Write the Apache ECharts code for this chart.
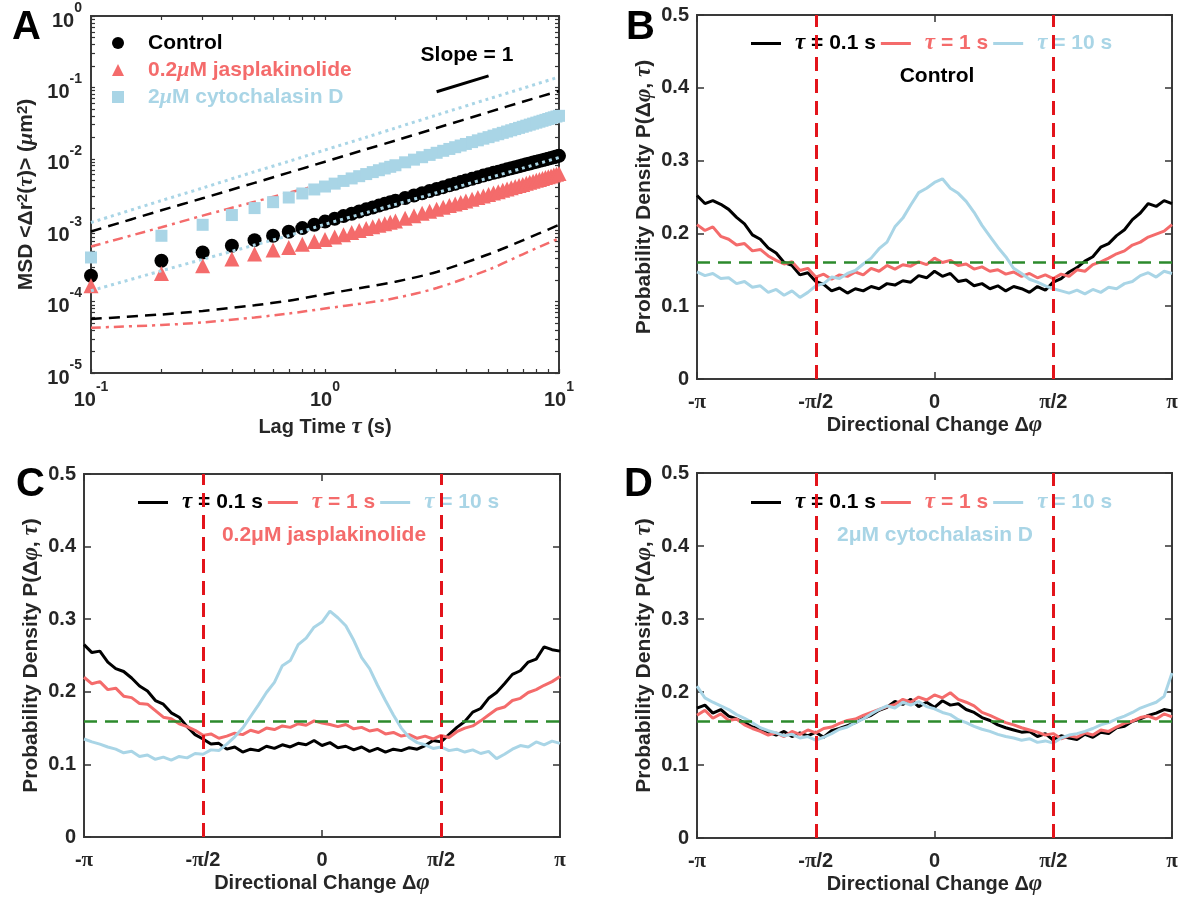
<!DOCTYPE html>
<html>
<head>
<meta charset="utf-8">
<script src="https://cdn.jsdelivr.net/npm/echarts@6/dist/echarts.min.js"></script>
<style>
  html, body { margin: 0; padding: 0; background: #fff; }
  #main { width: 1182px; height: 900px; }
</style>
</head>
<body>
<div id="main"></div>
<script>
// ---- panel A: MSD vs lag time ----
const lagTimes = [0.1, 0.2, 0.3, 0.4, 0.5, 0.6, 0.7, 0.8, 0.9, 1.0,
  1.1, 1.2, 1.3, 1.4, 1.5, 1.6, 1.7, 1.8, 1.9, 2.0,
  2.2, 2.4, 2.6, 2.8, 3.0, 3.2, 3.4, 3.6, 3.8, 4.0,
  4.25, 4.5, 4.75, 5.0, 5.25, 5.5, 5.75, 6.0, 6.25, 6.5, 6.75, 7.0,
  7.25, 7.5, 7.75, 8.0, 8.25, 8.5, 8.75, 9.0, 9.25, 9.5, 9.75, 10.0]
const msdControl = [2.3e-4, 3.73e-4, 4.88e-4, 6.05e-4, 7.26e-4, 8.35e-4, 9.5e-4, 1.07e-3, 1.19e-3, 1.32e-3,
  1.45e-3, 1.575e-3, 1.70e-3, 1.83e-3, 1.96e-3, 2.08e-3, 2.21e-3, 2.34e-3, 2.46e-3, 2.58e-3,
  2.82e-3, 3.06e-3, 3.30e-3, 3.54e-3, 3.78e-3, 4.01e-3, 4.25e-3, 4.48e-3, 4.72e-3, 4.95e-3,
  5.24e-3, 5.53e-3, 5.82e-3, 6.10e-3, 6.36e-3, 6.61e-3, 6.87e-3, 7.12e-3, 7.38e-3, 7.63e-3, 7.87e-3, 8.12e-3,
  8.36e-3, 8.61e-3, 8.85e-3, 9.09e-3, 9.34e-3, 9.58e-3, 9.81e-3, 1.005e-2, 1.029e-2, 1.053e-2, 1.076e-2, 1.10e-2]
const msdJasp = [1.67e-4, 2.48e-4, 3.18e-4, 3.94e-4, 4.63e-4, 5.26e-4, 5.73e-4, 6.38e-4, 6.95e-4, 7.4e-4,
  8.04e-4, 8.67e-4, 9.30e-4, 9.92e-4, 1.053e-3, 1.114e-3, 1.174e-3, 1.234e-3, 1.293e-3, 1.35e-3,
  1.476e-3, 1.60e-3, 1.723e-3, 1.845e-3, 1.968e-3, 2.09e-3, 2.21e-3, 2.33e-3, 2.45e-3, 2.57e-3,
  2.72e-3, 2.87e-3, 3.02e-3, 3.16e-3, 3.31e-3, 3.46e-3, 3.62e-3, 3.77e-3, 3.92e-3, 4.08e-3, 4.23e-3, 4.38e-3,
  4.53e-3, 4.69e-3, 4.84e-3, 4.99e-3, 5.15e-3, 5.30e-3, 5.45e-3, 5.60e-3, 5.76e-3, 5.91e-3, 6.06e-3, 6.20e-3]
const msdCyto = [4.15e-4, 8.35e-4, 1.19e-3, 1.63e-3, 2.04e-3, 2.47e-3, 2.87e-3, 3.27e-3, 3.72e-3, 4.09e-3,
  4.49e-3, 4.90e-3, 5.31e-3, 5.71e-3, 6.11e-3, 6.51e-3, 6.92e-3, 7.32e-3, 7.72e-3, 8.12e-3,
  8.93e-3, 9.73e-3, 1.053e-2, 1.134e-2, 1.214e-2, 1.294e-2, 1.374e-2, 1.454e-2, 1.534e-2, 1.614e-2,
  1.714e-2, 1.814e-2, 1.914e-2, 2.01e-2, 2.11e-2, 2.21e-2, 2.31e-2, 2.41e-2, 2.51e-2, 2.61e-2, 2.71e-2, 2.81e-2,
  2.91e-2, 3.01e-2, 3.11e-2, 3.21e-2, 3.31e-2, 3.41e-2, 3.51e-2, 3.61e-2, 3.71e-2, 3.81e-2, 3.91e-2, 4.00e-2]

// bound curves
const boundTimes = [0.1, 0.2, 0.3, 0.5, 0.7, 1, 1.5, 2, 3, 5, 7, 10]
const controlUpper = [9.6e-4, 1.9e-3, 2.8e-3, 4.6e-3, 6.4e-3, 9.1e-3, 1.36e-2, 1.8e-2, 2.7e-2, 4.5e-2, 6.3e-2, 8.9e-2]
const controlLower = [5.7e-5, 6.6e-5, 7.4e-5, 8.9e-5, 1.03e-4, 1.27e-4, 1.6e-4, 1.9e-4, 2.6e-4, 4.6e-4, 7.2e-4, 1.19e-3]
const jaspUpper = [5.9e-4, 1.1e-3, 1.6e-3, 2.5e-3, 3.35e-3, 4.5e-3, 6.4e-3, 8.3e-3, 1.2e-2, 1.9e-2, 2.6e-2, 3.6e-2]
const jaspLower = [4.3e-5, 4.7e-5, 5.1e-5, 6.0e-5, 6.8e-5, 8.0e-5, 9.6e-5, 1.12e-4, 1.55e-4, 2.8e-4, 4.6e-4, 7.7e-4]
const cytoUpper = [1.28e-3, 2.6e-3, 3.9e-3, 6.6e-3, 9.2e-3, 1.33e-2, 2.0e-2, 2.7e-2, 4.1e-2, 6.9e-2, 9.7e-2, 0.14]
const cytoLower = [1.42e-4, 2.7e-4, 3.9e-4, 6.2e-4, 8.4e-4, 1.21e-3, 1.76e-3, 2.3e-3, 3.35e-3, 5.4e-3, 7.4e-3, 1.04e-2]
const slopeTimes = [3, 5]
const slopeValues = [0.087, 0.145]

// ---- panels B-D: directional change distributions (61 samples, -pi..pi) ----
const phiLabels = ['-{g|π}', '-{g|π}/2', '0', '{g|π}/2', '{g|π}']
const uniformLevel = 0.159

const bTau01 = [0.252, 0.241, 0.245, 0.240, 0.233, 0.222, 0.213, 0.198, 0.192, 0.180,
  0.173, 0.160, 0.156, 0.143, 0.146, 0.134, 0.130, 0.121, 0.125, 0.118,
  0.124, 0.121, 0.127, 0.124, 0.131, 0.129, 0.135, 0.133, 0.142, 0.139,
  0.148, 0.141, 0.145, 0.134, 0.136, 0.128, 0.131, 0.124, 0.128, 0.121,
  0.127, 0.124, 0.119, 0.127, 0.122, 0.133, 0.138, 0.147, 0.153, 0.162,
  0.168, 0.181, 0.186, 0.197, 0.205, 0.219, 0.228, 0.241, 0.237, 0.245, 0.241]
const bTau1 = [0.212, 0.204, 0.209, 0.196, 0.192, 0.184, 0.186, 0.176, 0.178, 0.169,
  0.163, 0.158, 0.161, 0.149, 0.152, 0.140, 0.144, 0.137, 0.143, 0.141,
  0.147, 0.143, 0.152, 0.148, 0.156, 0.151, 0.157, 0.155, 0.161, 0.157,
  0.166, 0.160, 0.163, 0.156, 0.158, 0.151, 0.154, 0.148, 0.150, 0.144,
  0.147, 0.141, 0.145, 0.139, 0.143, 0.138, 0.144, 0.141, 0.150, 0.148,
  0.157, 0.161, 0.166, 0.172, 0.176, 0.184, 0.188, 0.195, 0.199, 0.203, 0.212]
const bTau10 = [0.147, 0.142, 0.145, 0.138, 0.139, 0.131, 0.134, 0.126, 0.128, 0.119,
  0.123, 0.115, 0.121, 0.112, 0.119, 0.128, 0.131, 0.140, 0.138, 0.145,
  0.149, 0.158, 0.166, 0.179, 0.188, 0.209, 0.221, 0.239, 0.256, 0.262,
  0.270, 0.275, 0.262, 0.255, 0.244, 0.229, 0.211, 0.196, 0.181, 0.168,
  0.152, 0.145, 0.137, 0.133, 0.128, 0.124, 0.121, 0.118, 0.122, 0.117,
  0.123, 0.119, 0.126, 0.124, 0.131, 0.134, 0.142, 0.146, 0.140, 0.148, 0.145]

const cTau01 = [0.265, 0.254, 0.256, 0.241, 0.232, 0.228, 0.219, 0.208, 0.201, 0.188,
  0.183, 0.171, 0.165, 0.152, 0.141, 0.135, 0.128, 0.129, 0.121, 0.124,
  0.117, 0.121, 0.119, 0.125, 0.122, 0.127, 0.124, 0.129, 0.127, 0.133,
  0.126, 0.130, 0.123, 0.125, 0.120, 0.124, 0.118, 0.122, 0.117, 0.121,
  0.119, 0.123, 0.121, 0.126, 0.133, 0.131, 0.141, 0.151, 0.159, 0.172,
  0.177, 0.191, 0.199, 0.211, 0.224, 0.229, 0.241, 0.245, 0.262, 0.258, 0.256]
const cTau1 = [0.220, 0.211, 0.214, 0.203, 0.205, 0.194, 0.192, 0.184, 0.183, 0.174,
  0.165, 0.163, 0.156, 0.152, 0.147, 0.140, 0.142, 0.136, 0.139, 0.143,
  0.141, 0.147, 0.144, 0.150, 0.148, 0.153, 0.151, 0.156, 0.154, 0.160,
  0.157, 0.155, 0.152, 0.155, 0.149, 0.151, 0.146, 0.148, 0.142, 0.144,
  0.139, 0.141, 0.136, 0.139, 0.135, 0.140, 0.137, 0.145, 0.150, 0.153,
  0.160, 0.168, 0.176, 0.179, 0.188, 0.191, 0.199, 0.203, 0.209, 0.214, 0.221]
const cTau10 = [0.135, 0.131, 0.128, 0.124, 0.121, 0.116, 0.118, 0.111, 0.113, 0.107,
  0.110, 0.106, 0.111, 0.109, 0.115, 0.114, 0.120, 0.119, 0.128, 0.138,
  0.150, 0.166, 0.182, 0.199, 0.213, 0.236, 0.243, 0.265, 0.274, 0.289,
  0.296, 0.311, 0.302, 0.291, 0.271, 0.247, 0.232, 0.209, 0.188, 0.168,
  0.150, 0.137, 0.130, 0.127, 0.122, 0.124, 0.119, 0.121, 0.117, 0.120,
  0.115, 0.118, 0.108, 0.114, 0.121, 0.126, 0.124, 0.131, 0.127, 0.132, 0.129]

const dTau01 = [0.178, 0.182, 0.171, 0.176, 0.167, 0.163, 0.158, 0.152, 0.149, 0.145,
  0.141, 0.146, 0.139, 0.144, 0.140, 0.145, 0.138, 0.147, 0.150, 0.154,
  0.158, 0.164, 0.168, 0.175, 0.179, 0.187, 0.183, 0.190, 0.180, 0.186,
  0.179, 0.188, 0.182, 0.184, 0.176, 0.172, 0.165, 0.161, 0.155, 0.151,
  0.148, 0.145, 0.146, 0.139, 0.143, 0.134, 0.140, 0.137, 0.135, 0.142,
  0.138, 0.145, 0.143, 0.151, 0.153, 0.160, 0.163, 0.168, 0.171, 0.176, 0.174]
const dTau1 = [0.168, 0.175, 0.164, 0.170, 0.161, 0.163, 0.155, 0.150, 0.146, 0.141,
  0.144, 0.139, 0.146, 0.142, 0.148, 0.144, 0.150, 0.152, 0.157, 0.161,
  0.163, 0.168, 0.172, 0.176, 0.180, 0.183, 0.190, 0.186, 0.193, 0.189,
  0.196, 0.192, 0.199, 0.190, 0.186, 0.181, 0.172, 0.168, 0.163, 0.158,
  0.155, 0.151, 0.148, 0.145, 0.141, 0.143, 0.136, 0.140, 0.138, 0.144,
  0.141, 0.148, 0.146, 0.152, 0.157, 0.160, 0.165, 0.167, 0.163, 0.170, 0.166]
const dTau10 = [0.208, 0.192, 0.186, 0.181, 0.176, 0.169, 0.164, 0.158, 0.151, 0.147,
  0.144, 0.140, 0.142, 0.137, 0.139, 0.134, 0.138, 0.143, 0.149, 0.152,
  0.158, 0.163, 0.170, 0.176, 0.181, 0.178, 0.186, 0.182, 0.187, 0.180,
  0.177, 0.172, 0.169, 0.162, 0.158, 0.153, 0.149, 0.146, 0.142, 0.139,
  0.137, 0.134, 0.136, 0.131, 0.133, 0.130, 0.137, 0.141, 0.143, 0.146,
  0.150, 0.155, 0.158, 0.163, 0.167, 0.172, 0.178, 0.182, 0.186, 0.194, 0.226]

const BLACK = '#000000'
const RED = '#f46b6b'
const BLUE = '#a9d5e6'
const TXT = '#262626'
const FONT = 'Liberation Sans'

const tau = ['τ = 0.1 s', 'τ = 1 s', 'τ = 10 s']
const halfPi = Math.PI / 2

let myChart = echarts.init(document.getElementById('main'))

const greek = { fontFamily: 'Liberation Serif', fontStyle: 'italic', fontWeight: 'bold', fontSize: 23 }
const supRich = {
  b: { fontFamily: FONT, fontWeight: 'bold', fontSize: 20, color: TXT, lineHeight: 30, verticalAlign: 'bottom' },
  s: { fontFamily: FONT, fontWeight: 'bold', fontSize: 14, color: TXT, lineHeight: 16, verticalAlign: 'top' }
}

function decadeTicks(lo, hi) {
  let out = []
  for (let e = lo; e < hi; e++) {
    for (let m = 1; m < 10; m++) out.push(m * Math.pow(10, e))
  }
  out.push(Math.pow(10, hi))
  return out
}
function supLabel(v) {
  return '{b|10}{s|' + Math.round(Math.log10(v)) + '}'
}

const tickStyle = { inside: true, length: 7, lineStyle: { color: '#333', width: 1.5 } }
const minorTickStyle = { inside: true, length: 4, lineStyle: { color: '#333', width: 1.2 } }
const hiddenLine = { show: false, onZero: false }

function phiX(gridIndex, withLabels) {
  return {
    gridIndex,
    type: 'value',
    position: withLabels ? 'bottom' : 'top',
    min: -Math.PI,
    max: Math.PI,
    interval: halfPi,
    axisLine: hiddenLine,
    splitLine: { show: false },
    axisTick: tickStyle,
    axisLabel: {
      show: withLabels,
      margin: 13,
      color: TXT,
      fontFamily: FONT,
      fontWeight: 'bold',
      fontSize: 20,
      formatter: v => phiLabels[Math.round(v / halfPi) + 2],
      rich: { g: Object.assign({ color: TXT }, greek, { fontStyle: 'normal', fontSize: 21 }) }
    },
    name: withLabels ? 'Directional Change Δ{g|φ}' : '',
    nameLocation: 'middle',
    nameGap: 33,
    nameTextStyle: {
      color: TXT, fontFamily: FONT, fontWeight: 'bold', fontSize: 20,
      rich: { g: Object.assign({ color: TXT }, greek) }
    }
  }
}
function probY(gridIndex, withLabels) {
  return {
    gridIndex,
    type: 'value',
    position: withLabels ? 'left' : 'right',
    min: 0,
    max: 0.5,
    interval: 0.1,
    axisLine: hiddenLine,
    splitLine: { show: false },
    axisTick: tickStyle,
    axisLabel: {
      show: withLabels,
      margin: 8,
      color: TXT,
      fontFamily: FONT,
      fontWeight: 'bold',
      fontSize: 20,
      formatter: v => (v === 0 ? '0' : v.toFixed(1))
    },
    name: withLabels ? 'Probability Density P(Δ{g|φ}, {g|τ})' : '',
    nameLocation: 'middle',
    nameGap: 41,
    nameRotate: 90,
    nameTextStyle: {
      color: TXT, fontFamily: FONT, fontWeight: 'bold', fontSize: 21,
      rich: { g: Object.assign({ color: TXT }, greek) }
    }
  }
}

function curve(values, name, color, xi, yi, marks) {
  let s = {
    name,
    type: 'line',
    xAxisIndex: xi,
    yAxisIndex: yi,
    data: values.map((v, i) => [-Math.PI + i * Math.PI / 30, v]),
    showSymbol: false,
    symbol: 'none',
    lineStyle: { color, width: 3 },
    itemStyle: { color },
    z: 2
  }
  if (marks) {
    s.markLine = {
      silent: true,
      symbol: 'none',
      label: { show: false },
      data: [
        { xAxis: -halfPi, lineStyle: { color: '#e3141b', width: 3, type: [14, 8] } },
        { xAxis: halfPi, lineStyle: { color: '#e3141b', width: 3, type: [14, 8] } },
        { yAxis: uniformLevel, lineStyle: { color: '#2c8a2c', width: 2.5, type: [13, 8] } }
      ]
    }
  }
  return s
}

function tauLegend(top, left) {
  return {
    top, left,
    orient: 'horizontal',
    icon: 'rect',
    itemWidth: 30,
    itemHeight: 3,
    itemGap: 5,
    z: 1,
    selectedMode: false,
    padding: 0,
    formatter: name => name.replace('τ', '{g|τ}'),
    textStyle: { fontFamily: FONT, fontWeight: 'bold', fontSize: 21, padding: [0, 0, 0, 9] },
    data: [
      { name: tau[0], itemStyle: { color: BLACK }, textStyle: { color: BLACK, rich: { g: Object.assign({ color: BLACK }, greek) } } },
      { name: tau[1], itemStyle: { color: RED }, textStyle: { color: RED, rich: { g: Object.assign({ color: RED }, greek) } } },
      { name: tau[2], itemStyle: { color: BLUE }, textStyle: { color: BLUE, rich: { g: Object.assign({ color: BLUE }, greek) } } }
    ]
  }
}

function dashed(values, name, color, type, width, z) {
  return {
    name,
    type: 'line',
    xAxisIndex: 0,
    yAxisIndex: 0,
    data: boundTimes.map((t, i) => [t, values[i]]),
    showSymbol: false,
    symbol: 'none',
    smooth: 0.3,
    lineStyle: { color, width, type },
    z
  }
}

const gridFrame = { show: true, borderColor: '#3a3a3a', borderWidth: 2, backgroundColor: 'transparent' }

myChart.setOption({
  animation: false,
  textStyle: { fontFamily: FONT },
  grid: [
    Object.assign({ left: 91, top: 16, width: 468, height: 357 }, gridFrame),
    Object.assign({ left: 697, top: 15, width: 475, height: 364 }, gridFrame),
    Object.assign({ left: 84, top: 474, width: 476, height: 363 }, gridFrame),
    Object.assign({ left: 697, top: 473, width: 475, height: 365 }, gridFrame)
  ],
  xAxis: [
    {
      gridIndex: 0,
      type: 'log',
      logBase: 10,
      min: 0.1,
      max: 10,
      position: 'bottom',
      axisLine: hiddenLine,
      splitLine: { show: false },
      axisTick: Object.assign({ customValues: decadeTicks(-1, 1) }, minorTickStyle),
      axisLabel: {
        customValues: [0.1, 1, 10],
        margin: 7,
        formatter: supLabel,
        rich: supRich
      },
      name: 'Lag Time {g|τ} (s)',
      nameLocation: 'middle',
      nameGap: 43,
      nameTextStyle: {
        color: TXT, fontFamily: FONT, fontWeight: 'bold', fontSize: 20,
        rich: { g: Object.assign({ color: TXT }, greek) }
      }
    },
    {
      gridIndex: 0,
      type: 'log',
      logBase: 10,
      min: 0.1,
      max: 10,
      position: 'top',
      axisLine: hiddenLine,
      splitLine: { show: false },
      axisTick: Object.assign({ customValues: decadeTicks(-1, 1) }, minorTickStyle),
      axisLabel: { show: false }
    },
    phiX(1, true), phiX(1, false),
    phiX(2, true), phiX(2, false),
    phiX(3, true), phiX(3, false)
  ],
  yAxis: [
    {
      gridIndex: 0,
      type: 'log',
      logBase: 10,
      min: 1e-5,
      max: 1,
      position: 'left',
      axisLine: hiddenLine,
      splitLine: { show: false },
      axisTick: Object.assign({ customValues: decadeTicks(-5, 0) }, minorTickStyle),
      axisLabel: {
        customValues: [1e-5, 1e-4, 1e-3, 1e-2, 1e-1, 1],
        margin: 9,
        formatter: supLabel,
        rich: supRich
      },
      name: 'MSD <Δr{s|2}({g|τ})> ({g|μ}m{s|2})',
      nameLocation: 'middle',
      nameGap: 54,
      nameRotate: 90,
      nameTextStyle: {
        color: TXT, fontFamily: FONT, fontWeight: 'bold', fontSize: 21,
        rich: {
          g: Object.assign({ color: TXT }, greek, { fontSize: 22 }),
          s: { fontFamily: FONT, fontWeight: 'bold', fontSize: 15, color: TXT, verticalAlign: 'top' }
        }
      }
    },
    {
      gridIndex: 0,
      type: 'log',
      logBase: 10,
      min: 1e-5,
      max: 1,
      position: 'right',
      axisLine: hiddenLine,
      splitLine: { show: false },
      axisTick: Object.assign({ customValues: decadeTicks(-5, 0) }, minorTickStyle),
      axisLabel: { show: false }
    },
    probY(1, true), probY(1, false),
    probY(2, true), probY(2, false),
    probY(3, true), probY(3, false)
  ],
  legend: [
    {
      top: 32,
      left: 112,
      orient: 'vertical',
      itemWidth: 12,
      itemHeight: 12,
      itemGap: 5,
      padding: 0,
      selectedMode: false,
      formatter: name => name.replace('μ', '{g|μ}'),
      textStyle: { fontFamily: FONT, fontWeight: 'bold', fontSize: 21, lineHeight: 22, padding: [0, 0, 0, 19] },
      data: [
        { name: 'Control', icon: 'circle', itemStyle: { color: BLACK }, textStyle: { color: BLACK } },
        { name: '0.2μM jasplakinolide', icon: 'triangle', itemStyle: { color: RED },
          textStyle: { color: RED, rich: { g: Object.assign({ color: RED }, greek, { fontSize: 22 }) } } },
        { name: '2μM cytochalasin D', icon: 'rect', itemStyle: { color: BLUE },
          textStyle: { color: BLUE, rich: { g: Object.assign({ color: BLUE }, greek, { fontSize: 22 }) } } }
      ]
    },
    tauLegend(32, 751),
    tauLegend(491, 138),
    tauLegend(491, 751)
  ],
  graphic: [
    { type: 'text', left: 12, top: 8, style: { text: 'A', font: 'bold 40px "Liberation Sans"', fill: '#000' } },
    { type: 'text', left: 626, top: 8, style: { text: 'B', font: 'bold 40px "Liberation Sans"', fill: '#000' } },
    { type: 'text', left: 16, top: 465, style: { text: 'C', font: 'bold 40px "Liberation Sans"', fill: '#000' } },
    { type: 'text', left: 624, top: 465, style: { text: 'D', font: 'bold 40px "Liberation Sans"', fill: '#000' } },
    { type: 'text', x: 467, y: 55, style: { text: 'Slope = 1', font: 'bold 21px "Liberation Sans"', fill: '#000', align: 'center', verticalAlign: 'middle' } },
    { type: 'text', x: 937, y: 76, style: { text: 'Control', font: 'bold 21px "Liberation Sans"', fill: '#000', align: 'center', verticalAlign: 'middle' } },
    { type: 'text', x: 324, y: 535,
      style: { text: '0.2μM jasplakinolide', font: 'bold 21px "Liberation Sans"', fill: RED, align: 'center', verticalAlign: 'middle' } },
    { type: 'text', x: 935, y: 535,
      style: { text: '2μM cytochalasin D', font: 'bold 21px "Liberation Sans"', fill: BLUE, align: 'center', verticalAlign: 'middle' } }
  ],
  series: [
    {
      name: 'Control', type: 'scatter', xAxisIndex: 0, yAxisIndex: 0, z: 2,
      symbol: 'circle', symbolSize: 14, itemStyle: { color: BLACK, opacity: 1 },
      data: lagTimes.map((t, i) => [t, msdControl[i]])
    },
    dashed(controlUpper, 'controlUpper', BLACK, [11, 7], 2.5, 3),
    dashed(controlLower, 'controlLower', BLACK, [11, 7], 2.5, 3),
    {
      name: '0.2μM jasplakinolide', type: 'scatter', xAxisIndex: 0, yAxisIndex: 0, z: 4,
      symbol: 'triangle', symbolSize: 15, itemStyle: { color: RED, opacity: 1 },
      data: lagTimes.map((t, i) => [t, msdJasp[i]])
    },
    dashed(jaspUpper, 'jaspUpper', RED, [10, 5, 3, 5], 2.5, 5),
    dashed(jaspLower, 'jaspLower', RED, [10, 5, 3, 5], 2.5, 5),
    {
      name: '2μM cytochalasin D', type: 'scatter', xAxisIndex: 0, yAxisIndex: 0, z: 6,
      symbol: 'rect', symbolSize: 12, itemStyle: { color: BLUE, opacity: 1 },
      data: lagTimes.map((t, i) => [t, msdCyto[i]])
    },
    dashed(cytoUpper, 'cytoUpper', BLUE, [3, 4], 3, 7),
    dashed(cytoLower, 'cytoLower', BLUE, [3, 4], 3, 7),
    {
      name: 'slope', type: 'line', xAxisIndex: 0, yAxisIndex: 0, z: 7,
      data: slopeTimes.map((t, i) => [t, slopeValues[i]]),
      showSymbol: false, symbol: 'none',
      lineStyle: { color: BLACK, width: 3 }
    },

    curve(bTau01, tau[0], BLACK, 2, 2),
    curve(bTau1, tau[1], RED, 2, 2),
    curve(bTau10, tau[2], BLUE, 2, 2, true),

    curve(cTau01, tau[0], BLACK, 4, 4),
    curve(cTau1, tau[1], RED, 4, 4),
    curve(cTau10, tau[2], BLUE, 4, 4, true),

    curve(dTau01, tau[0], BLACK, 6, 6),
    curve(dTau1, tau[1], RED, 6, 6),
    curve(dTau10, tau[2], BLUE, 6, 6, true)
  ]
})
</script>
</body>
</html>
